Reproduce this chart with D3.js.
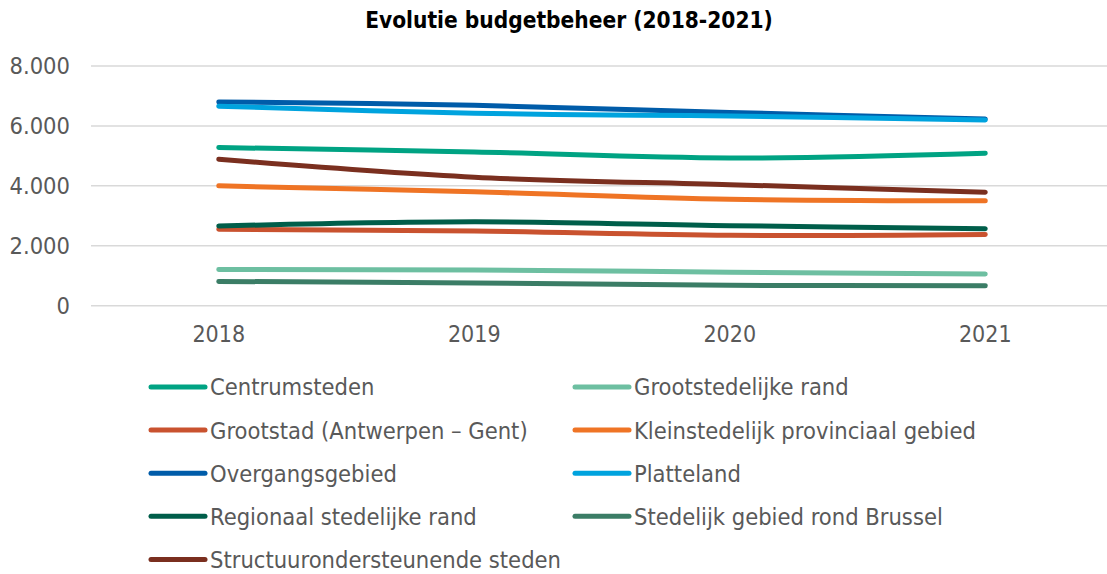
<!DOCTYPE html>
<html lang="nl">
<head>
<meta charset="UTF-8">
<script src="https://d3js.org/d3.v7.min.js"></script>
<title>Evolutie budgetbeheer (2018-2021)</title>
<style>
  body { margin: 0; background: #fff; }
  text { font-family: "DejaVu Sans Condensed", "DejaVu Sans", sans-serif; }
</style>
</head>
<body>
<script>
// data
const years = ['2018', '2019', '2020', '2021'];
const seriesNames = [
  'Centrumsteden',
  'Grootstedelijke rand',
  'Grootstad (Antwerpen \u2013 Gent)',
  'Kleinstedelijk provinciaal gebied',
  'Overgangsgebied',
  'Platteland',
  'Regionaal stedelijke rand',
  'Stedelijk gebied rond Brussel',
  'Structuurondersteunende steden'
];
const centrumsteden = [5280, 5130, 4930, 5090];
const grootstedelijkeRand = [1210, 1190, 1120, 1060];
const grootstad = [2550, 2490, 2350, 2380];
const kleinstedelijk = [4000, 3800, 3550, 3500];
const overgangsgebied = [6800, 6690, 6450, 6230];
const platteland = [6660, 6420, 6330, 6200];
const regionaal = [2660, 2800, 2670, 2570];
const brussel = [810, 760, 680, 670];
const structuur = [4890, 4290, 4040, 3790];
const yTicks = [0, 2000, 4000, 6000, 8000];

const colors = ['#00a383', '#6dbfa1', '#c9522f', '#ef7425', '#005ca9', '#00a3de', '#005e4a', '#3b7d66', '#7a2f1f'];
const values = [centrumsteden, grootstedelijkeRand, grootstad, kleinstedelijk,
  overgangsgebied, platteland, regionaal, brussel, structuur];

const series = seriesNames.map((name, i) => ({ name, color: colors[i], values: values[i] }));

const W = 1107, H = 574;
const svg = d3.select('body').append('svg')
  .attr('width', W)
  .attr('height', H);

const x = d3.scalePoint().domain(years).range([91, 1113]).padding(0.5);
const y = d3.scaleLinear().domain([0, 8000]).range([305.7, 66]);

// title
svg.append('text')
  .attr('x', 569)
  .attr('y', 28)
  .attr('text-anchor', 'middle')
  .attr('font-size', 22.5)
  .attr('font-weight', 'bold')
  .attr('fill', '#000')
  .text('Evolutie budgetbeheer (2018-2021)');

// gridlines
svg.append('g')
  .selectAll('line')
  .data(yTicks)
  .join('line')
  .attr('x1', 91)
  .attr('x2', W)
  .attr('y1', d => y(d))
  .attr('y2', d => y(d))
  .attr('stroke', '#d9d9d9')
  .attr('stroke-width', 1.5);

// y axis labels
const fmt = d3.formatLocale({ decimal: ',', thousands: '.', grouping: [3], currency: ['€', ''] }).format(',d');
svg.append('g')
  .selectAll('text')
  .data(yTicks)
  .join('text')
  .attr('x', 70)
  .attr('y', d => y(d))
  .attr('dy', '0.36em')
  .attr('text-anchor', 'end')
  .attr('font-size', 23.5)
  .attr('fill', '#595959')
  .text(d => fmt(d));

// x axis labels
svg.append('g')
  .selectAll('text')
  .data(years)
  .join('text')
  .attr('x', d => x(d))
  .attr('y', 334)
  .attr('dy', '0.36em')
  .attr('text-anchor', 'middle')
  .attr('font-size', 23)
  .attr('fill', '#595959')
  .text(d => d);

// lines
const line = d3.line()
  .x((d, i) => x(years[i]))
  .y(d => y(d))
  .curve(d3.curveCatmullRom.alpha(0.5));

svg.append('g')
  .selectAll('path')
  .data(series)
  .join('path')
  .attr('d', d => line(d.values))
  .attr('fill', 'none')
  .attr('stroke', d => d.color)
  .attr('stroke-width', 5)
  .attr('stroke-linecap', 'round')
  .attr('stroke-linejoin', 'round');

// legend, two columns, row-major
const legend = svg.append('g')
  .selectAll('g')
  .data(series)
  .join('g')
  .attr('transform', (d, i) => `translate(${i % 2 === 0 ? 151 : 575}, ${387 + Math.floor(i / 2) * 43.1})`);

legend.append('line')
  .attr('x1', 0)
  .attr('x2', 54)
  .attr('stroke', d => d.color)
  .attr('stroke-width', 5)
  .attr('stroke-linecap', 'round');

legend.append('text')
  .attr('x', 59)
  .attr('dy', '0.36em')
  .attr('font-size', 23.5)
  .attr('fill', '#595959')
  .text(d => d.name);
</script>
</body>
</html>
